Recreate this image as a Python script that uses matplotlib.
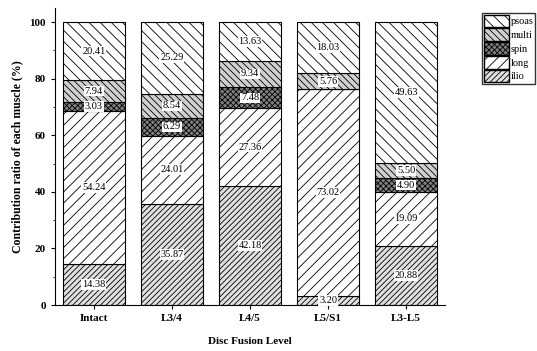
import matplotlib
matplotlib.use("Agg")
import matplotlib.pyplot as plt
import numpy as np
from matplotlib.patches import Patch

categories = ["Intact", "L3/4", "L4/5", "L5/S1", "L3-L5"]
ilio = [14.38, 35.87, 42.18, 3.20, 20.88]
long_ = [54.24, 24.01, 27.36, 73.02, 19.09]
spin = [3.03, 6.29, 7.48, 0.0, 4.90]
multi = [7.94, 8.54, 9.34, 5.76, 5.50]
psoas = [20.41, 25.29, 13.63, 18.03, 49.63]

series = [("ilio", ilio), ("long", long_), ("spin", spin), ("multi", multi), ("psoas", psoas)]
hatches = {"ilio": "//////", "long": "///", "spin": "xxxxxx", "multi": "\\\\\\\\\\", "psoas": "\\\\\\"}
faces = {"ilio": "#e0e0e0", "long": "white", "spin": "#808080", "multi": "#d0d0d0", "psoas": "white"}

plt.rcParams['font.family'] = ['Liberation Serif', 'DejaVu Serif']
plt.rcParams['hatch.linewidth'] = 0.6

fig = plt.figure(figsize=(5.37, 3.51), dpi=100)
ax = fig.add_axes([0.102, 0.131, 0.727, 0.846])

x = np.arange(len(categories))
bottom = np.zeros(len(categories))
for name, vals in series:
    vals = np.array(vals)
    ax.bar(x, vals, 0.8, bottom=bottom, color=faces[name], edgecolor="black",
           hatch=hatches[name], linewidth=0.8)
    for i, v in enumerate(vals):
        if v > 0:
            ax.text(x[i], bottom[i] + v / 2, f"{v:.2f}", ha="center", va="center",
                    fontsize=7.5, bbox=dict(facecolor="white", edgecolor="none", pad=0.5))
    bottom += vals

ax.set_xlim(-0.5, 4.5)
ax.set_ylim(0, 105)
ax.set_yticks([0, 20, 40, 60, 80, 100])
ax.set_yticks(np.arange(0, 101, 10), minor=True)
ax.set_xticks(x)
ax.set_xticklabels(categories, fontweight="bold", fontsize=8)
for t in ax.get_yticklabels():
    t.set_fontweight("bold")
    t.set_fontsize(8)
ax.spines["top"].set_visible(False)
ax.spines["right"].set_visible(False)
ax.tick_params(axis="both", direction="out", length=3, width=0.8)
ax.tick_params(axis="y", which="minor", length=1.5)
ax.set_xlabel("Disc Fusion Level", fontweight="bold", fontsize=8, labelpad=10)
ax.set_ylabel("Contribution ratio of each muscle (%)", fontweight="bold", fontsize=8.5)

handles = [Patch(facecolor=faces[n], edgecolor="black", hatch=hatches[n], label=n)
           for n in ["psoas", "multi", "spin", "long", "ilio"]]
fig.legend(handles=handles, loc="upper left", bbox_to_anchor=(0.898, 0.963),
           fontsize=7.5, frameon=True, fancybox=False, edgecolor="black",
           handlelength=2.4, handleheight=1.5, handletextpad=0.2, borderpad=0.15,
           labelspacing=0.1, borderaxespad=0)

fig.savefig("out.png", dpi=100)
